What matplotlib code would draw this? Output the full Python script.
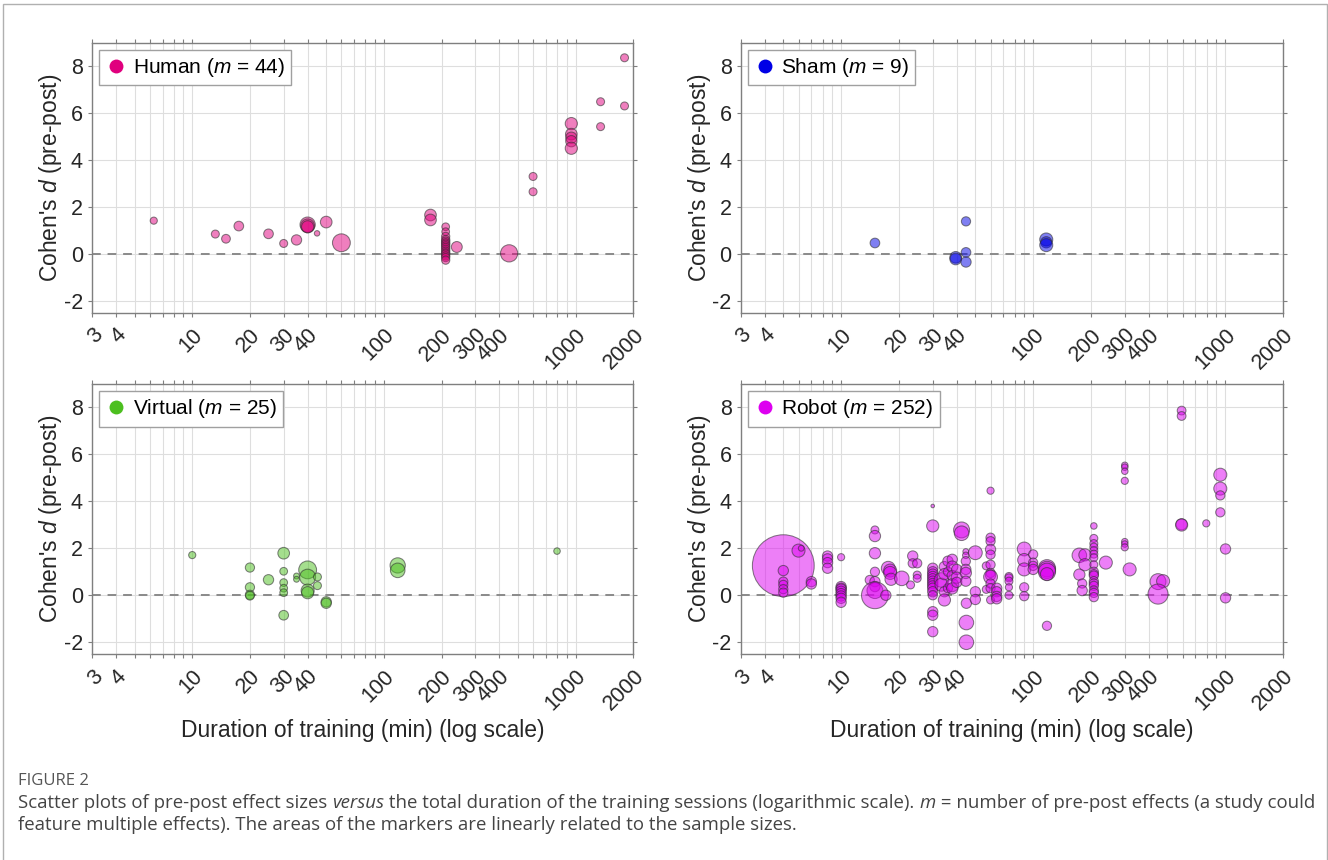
import matplotlib
matplotlib.use('Agg')
import matplotlib.pyplot as plt
from matplotlib.ticker import FixedLocator, FixedFormatter, NullLocator
from matplotlib.patches import Rectangle
from matplotlib.lines import Line2D

# ---------------- data ----------------
xtick_labels = {3: '3', 4: '4', 10: '10', 20: '20', 30: '30', 40: '40', 100: '100',
                200: '200', 300: '300', 400: '400', 1000: '1000', 2000: '2000'}
ytick_values = [-2, 0, 2, 4, 6, 8]

human_x = [6.3, 13.2, 15.0, 17.5, 25, 30, 35, 40, 40, 40, 44.8, 50, 60, 175, 175,
           210, 210, 210, 210, 210, 210, 210, 210, 210, 210, 210, 210, 210, 210, 210, 210,
           240, 450, 600, 600, 950, 950, 950, 950, 950, 1350, 1350, 1800, 1800]
human_y = [1.42, 0.85, 0.65, 1.19, 0.86, 0.45, 0.60, 1.25, 1.20, 1.16, 0.88, 1.36, 0.48, 1.66, 1.45,
           1.16, 0.95, 0.75, 0.62, 0.55, 0.48, 0.42, 0.35, 0.28, 0.20, 0.12, 0.05, 0.00, -0.08, -0.15, -0.26,
           0.30, 0.03, 3.30, 2.65, 5.55, 5.10, 4.95, 4.80, 4.50, 6.48, 5.42, 8.35, 6.30]
human_n = [12, 15, 18, 22, 22, 15, 25, 55, 45, 35, 7, 32, 75, 32, 32,
           14, 14, 16, 16, 16, 16, 16, 16, 16, 16, 16, 16, 16, 16, 16, 16,
           28, 70, 15, 15, 35, 32, 30, 30, 35, 15, 15, 15, 15]

sham_x = [15.0, 39.5, 39.5, 44.7, 44.7, 44.7, 117, 117, 117]
sham_y = [0.47, -0.14, -0.21, 1.39, 0.07, -0.34, 0.62, 0.50, 0.38]
sham_n = [22, 32, 32, 20, 22, 25, 40, 30, 40]

virtual_x = [10, 20, 20, 20, 20, 25, 30, 30, 30, 30, 30, 30, 35, 35, 40, 40, 40, 40,
             45, 45, 50, 50, 118, 118, 800]
virtual_y = [1.71, 1.18, 0.34, 0.02, -0.02, 0.66, 1.79, 1.02, 0.54, 0.30, 0.11, -0.85, 0.82, 0.68,
             1.08, 0.77, 0.20, 0.11, 0.78, 0.41, -0.28, -0.34, 1.27, 1.06, 1.88]
virtual_n = [12, 20, 20, 20, 18, 25, 32, 14, 14, 14, 14, 22, 8, 8, 75, 60, 40, 35,
             15, 15, 25, 25, 55, 50, 10]

robot_x = [5, 5, 5, 5, 5, 5, 6.0, 6.2, 7.0, 7.0, 8.5, 8.5, 8.5, 8.5,
           10, 10, 10, 10, 10, 10, 10, 10, 10,
           14.1, 15, 15, 15, 15, 15, 15, 15, 15,
           17.1, 17.6, 18, 18, 18.2, 20.7, 23, 23.6, 23.6, 24.9, 24.9, 24.9,
           30, 30, 30, 30, 30, 30, 30, 30, 30, 30, 30, 30, 30, 30, 30, 30,
           33.3, 33.3, 34.5, 34.5, 34.5, 34.5, 36, 36, 36,
           37.9, 37.9, 37.9, 37.9, 37.9, 40, 40, 40, 42.4, 42.4,
           44.6, 44.6, 44.6, 44.6, 44.6, 44.6, 44.9, 44.9, 44.9,
           50, 50, 50, 57, 57,
           60, 60, 60, 60, 60, 60, 60, 60, 60, 60, 60, 60,
           64.6, 64.6, 64.6, 64.6, 74.8, 74.8, 74.8, 74.8, 74.8,
           89.8, 89.8, 89.8, 89.8, 89.8, 100, 100, 100, 100,
           118, 118, 118, 118, 118,
           174, 174, 186, 186, 180, 180,
           207, 207, 207, 207, 207, 207, 207, 207, 207, 207, 207, 207, 207, 207, 207, 207, 207,
           239, 300, 300, 300, 300, 300, 300, 300, 318,
           447, 475, 447, 593, 593, 593, 593, 797,
           943, 943, 943, 943, 1004, 1004]
robot_y = [1.26, 1.05, 0.58, 0.44, 0.26, 0.11, 1.90, 2.00, 0.58, 0.48, 1.67, 1.55, 1.39, 1.15,
           1.62, 0.37, 0.30, 0.26, 0.17, 0.07, -0.03, -0.13, -0.30,
           0.65, 2.78, 2.52, 1.79, 1.00, 0.58, 0.37, 0.20, 0.00,
           0.00, 1.15, 1.05, 0.95, 0.68, 0.72, 0.44, 1.67, 1.36, 1.36, 0.86, 0.72,
           3.80, 2.95, 1.15, 1.00, 0.90, 0.80, 0.70, 0.60, 0.50, 0.40, 0.30, 0.15, 0.00, -0.70, -0.85, -1.55,
           0.65, 0.45, 1.22, 0.90, 0.15, -0.20, 1.45, 1.00, 0.30,
           1.53, 1.22, 0.84, 0.43, 0.29, 1.10, 0.75, 0.55, 2.78, 2.64,
           1.86, 1.70, 1.45, 1.10, 0.95, 0.60, -0.34, -1.16, -2.00,
           1.81, 0.15, -0.18, 1.25, 0.25,
           4.45, 2.45, 2.30, 1.95, 1.73, 1.30, 0.95, 0.85, 0.78, 0.50, 0.30, -0.20,
           0.30, 0.15, -0.05, -0.15, 0.80, 0.74, 0.60, 0.34, 0.00,
           1.97, 1.50, 1.10, 0.34, -0.04, 1.74, 1.39, 1.25, 1.10,
           1.15, 1.08, 1.00, 0.90, -1.30,
           1.70, 0.88, 1.72, 1.30, 0.50, 0.20,
           2.95, 2.42, 2.20, 2.05, 1.90, 1.75, 1.60, 1.30, 1.00, 0.90, 0.84, 0.60, 0.50, 0.40, 0.20, 0.10, -0.08,
           1.39, 5.53, 5.45, 5.28, 4.87, 2.28, 2.18, 2.04, 1.10,
           0.58, 0.60, 0.05, 7.86, 7.63, 3.02, 2.99, 3.06,
           5.13, 4.54, 4.25, 3.53, 1.97, -0.11]
robot_n = [900, 25, 20, 20, 20, 20, 40, 8, 25, 25, 25, 25, 25, 25,
           12, 25, 25, 25, 25, 25, 25, 25, 25,
           20, 15, 30, 30, 20, 25, 25, 60, 170,
           25, 45, 40, 40, 35, 50, 15, 25, 20, 20, 15, 15,
           3, 35, 25, 25, 25, 25, 25, 25, 25, 25, 25, 25, 20, 25, 25, 25,
           50, 40, 25, 30, 25, 35, 25, 20, 20,
           25, 30, 25, 40, 30, 25, 30, 25, 60, 50,
           8, 10, 20, 25, 30, 25, 25, 50, 50,
           45, 25, 25, 15, 15,
           12, 20, 20, 25, 20, 20, 20, 25, 45, 20, 20, 15,
           25, 25, 25, 25, 15, 15, 15, 12, 15,
           45, 40, 40, 20, 20, 20, 20, 20, 25,
           70, 70, 70, 40, 20,
           50, 30, 35, 35, 20, 25,
           10, 15, 15, 15, 15, 15, 15, 15, 20, 20, 20, 20, 20, 20, 20, 20, 20,
           40, 10, 10, 10, 12, 10, 10, 12, 40,
           60, 40, 95, 18, 18, 30, 35, 12,
           40, 40, 20, 20, 25, 25]

panels = [
    ('Human', 44, human_x, human_y, human_n, '#E0007E'),
    ('Sham', 9, sham_x, sham_y, sham_n, '#0000E6'),
    ('Virtual', 25, virtual_x, virtual_y, virtual_n, '#4CBF1F'),
    ('Robot', 252, robot_x, robot_y, robot_n, '#DD00F0'),
]

# ---------------- style ----------------
plt.rcParams['font.family'] = ['Liberation Sans', 'DejaVu Sans']
plt.rcParams['mathtext.fontset'] = 'custom'
plt.rcParams['mathtext.rm'] = 'Liberation Sans'
plt.rcParams['mathtext.it'] = 'Liberation Sans:italic'
plt.rcParams['axes.unicode_minus'] = False

W, H = 1328, 860
fig = plt.figure(figsize=(W / 100, H / 100), dpi=100)
fig.patch.set_facecolor('white')


def rect(left, top, right, bottom):
    return [left / W, 1 - bottom / H, (right - left) / W, (bottom - top) / H]


boxes = [rect(92, 42.5, 633.3, 312.8), rect(740.7, 42.5, 1283, 312.8),
         rect(92, 383.8, 633.3, 654), rect(740.7, 383.8, 1283, 654)]

tick_pos = [m * 10 ** e for e in range(0, 4) for m in range(1, 10)]
tick_pos = [t for t in tick_pos if 3 <= t <= 2000]
tick_lab = [xtick_labels.get(t, '') for t in tick_pos]

GRAY = '#7f7f7f'
for i, (name, m, xs, ys, ns, col) in enumerate(panels):
    ax = fig.add_axes(boxes[i])
    ax.set_xscale('log')
    ax.set_xlim(3, 2000)
    ax.set_ylim(-2.5, 9)
    ax.xaxis.set_major_locator(FixedLocator(tick_pos))
    ax.xaxis.set_major_formatter(FixedFormatter(tick_lab))
    ax.xaxis.set_minor_locator(NullLocator())
    ax.set_yticks(ytick_values)
    ax.set_yticklabels([str(v) for v in ytick_values])
    ax.set_axisbelow(True)
    ax.grid(True, which='major', color='#dedede', lw=0.8)
    for s in ax.spines.values():
        s.set_color(GRAY)
        s.set_linewidth(1.0)
    ax.tick_params(axis='both', which='major', direction='out', length=3, width=0.8,
                   color=GRAY, top=True, right=True, labelsize=15.5, labelcolor='#262626')
    ax.tick_params(axis='y', pad=3.5)
    ax.tick_params(axis='x', pad=5.5)
    for lab in ax.get_xticklabels():
        lab.set_rotation(45)
        lab.set_ha('right')
        lab.set_va('top')
        lab.set_rotation_mode('anchor')
    ax.axhline(0, color='#8a8a8a', lw=1.4, dashes=(4.5, 3.5), zorder=1.5)
    ax.scatter(xs, ys, s=[2.2 * n for n in ns], facecolor=matplotlib.colors.to_rgba(col, 0.5),
               edgecolor=(0.2, 0.2, 0.2, 0.6), linewidth=0.75, zorder=2)
    handle = Line2D([], [], marker='o', ls='none', markerfacecolor=col, markeredgecolor='none',
                    markersize=10)
    ax.legend([handle], [f'{name} ($m$ = {m})'], loc='upper left', fontsize=15, frameon=True,
              fancybox=False, edgecolor='#a0a0a0', framealpha=1, borderaxespad=0.35,
              borderpad=0.3, handletextpad=0.3, handlelength=1.0)
    ax.set_ylabel("Cohen's $d$ (pre-post)", fontsize=16.5, color='#262626')
    ax.yaxis.set_label_coords(-0.052, 0.5)
    if i >= 2:
        ax.set_xlabel('Duration of training (min) (log scale)', fontsize=16.5, color='#262626')
        ax.xaxis.set_label_coords(0.5, (654 - 719) / 270.2)

# outer frame
fig.add_artist(Rectangle((3 / W, -0.01), (1326.5 - 3) / W, 1.01 - 4 / H, transform=fig.transFigure,
                         fill=False, edgecolor='#b0b0b0', lw=1.0))

# caption
fig.canvas.draw()
renderer = fig.canvas.get_renderer()
cap_kw = dict(family='Open Sans', fontsize=13.4, color='#444444')


def text_width(s, **kw):
    t = fig.text(0, 0, 'X' + s + 'X', **kw)
    w1 = t.get_window_extent(renderer).width
    t.set_text('XX')
    w2 = t.get_window_extent(renderer).width
    t.remove()
    return w1 - w2


fig.text(18 / W, 1 - 781 / H, 'FIGURE 2', family='Open Sans', fontsize=12, color='#555555',
         va='center')
line1 = [('Scatter plots of pre-post effect sizes ', 'normal'), ('versus', 'italic'),
         (' the total duration of the training sessions (logarithmic scale). ', 'normal'),
         ('m', 'italic'), (' = number of pre-post effects (a study could', 'normal')]
line2 = [('feature multiple effects). The areas of the markers are linearly related to the sample sizes.',
          'normal')]
for yy, parts in ((803, line1), (825, line2)):
    x = 18
    for s, st in parts:
        fig.text(x / W, 1 - yy / H, s, fontstyle=st, va='center', **cap_kw)
        x += text_width(s, fontstyle=st, **cap_kw)

fig.savefig('out.png', dpi=100)
